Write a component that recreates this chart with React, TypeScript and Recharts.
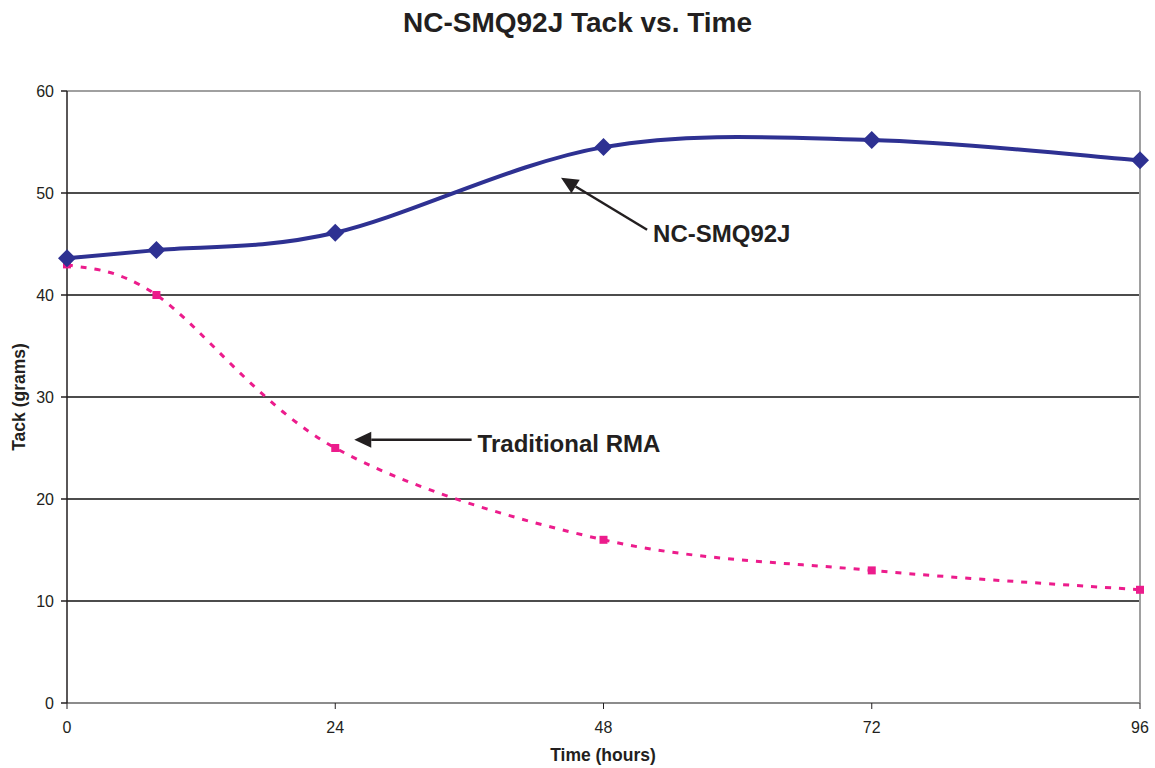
import React from "react";
import {
  LineChart,
  Line,
  XAxis,
  YAxis,
  CartesianGrid,
  ReferenceLine,
} from "recharts";

// values (hours → grams)
const hours = [0, 8, 24, 48, 72, 96];
const ncSmq92j = [43.6, 44.4, 46.1, 54.5, 55.2, 53.2];
const traditionalRma = [43.0, 40.0, 25.0, 16.0, 13.0, 11.1];

const xTicks = [0, 24, 48, 72, 96];
const yTicks = [0, 10, 20, 30, 40, 50, 60];

// annotation arrows: [tip, tail] in data coords
const ncArrow = [
  { x: 44.2, y: 51.5 },
  { x: 51.9, y: 46.4 },
];
const rmaArrow = [
  { x: 25.7, y: 25.8 },
  { x: 36.2, y: 25.8 },
];

const data = hours.map((h, i) => ({
  hours: h,
  nc: ncSmq92j[i],
  rma: traditionalRma[i],
}));

const FONT = "'Liberation Sans', Arial, Helvetica, sans-serif";
const BLUE = "#2e3192";
const PINK = "#ec1c8c";
const INK = "#231f20";

// Excel-style smoothed line (Catmull-Rom as cubic bezier)
const excelCurve = (context: any) => {
  let pts: [number, number][] = [];
  return {
    areaStart() {},
    areaEnd() {},
    lineStart() {
      pts = [];
    },
    point(x: number, y: number) {
      pts.push([+x, +y]);
    },
    lineEnd() {
      const n = pts.length;
      if (!n) return;
      context.moveTo(pts[0][0], pts[0][1]);
      for (let i = 0; i < n - 1; i++) {
        const p0 = pts[Math.max(i - 1, 0)];
        const p1 = pts[i];
        const p2 = pts[i + 1];
        const p3 = pts[Math.min(i + 2, n - 1)];
        context.bezierCurveTo(
          p1[0] + (p2[0] - p0[0]) / 6,
          p1[1] + (p2[1] - p0[1]) / 6,
          p2[0] - (p3[0] - p1[0]) / 6,
          p2[1] - (p3[1] - p1[1]) / 6,
          p2[0],
          p2[1]
        );
      }
    },
  };
};

const Diamond = (props: any) => {
  const { cx, cy, index } = props;
  const r = 9;
  return (
    <polygon
      key={`d-${index}`}
      points={`${cx},${cy - r} ${cx + r},${cy} ${cx},${cy + r} ${cx - r},${cy}`}
      fill={BLUE}
    />
  );
};

const Square = (props: any) => {
  const { cx, cy, index } = props;
  const s = 8;
  return <rect key={`s-${index}`} x={cx - s / 2} y={cy - s / 2} width={s} height={s} fill={PINK} />;
};

// arrow from tail (x2,y2) to tip (x1,y1) with the label next to the tail
const arrowShape = (label: string) => (props: any) => {
  const { x1, y1, x2, y2 } = props;
  const dx = x1 - x2;
  const dy = y1 - y2;
  const len = Math.sqrt(dx * dx + dy * dy) || 1;
  const ux = dx / len;
  const uy = dy / len;
  const headLen = 17;
  const headW = 8;
  const bx = x1 - ux * headLen;
  const by = y1 - uy * headLen;
  const px = -uy;
  const py = ux;
  return (
    <g>
      <line x1={x2} y1={y2} x2={bx} y2={by} stroke={INK} strokeWidth={2.5} />
      <polygon
        points={`${x1},${y1} ${bx + px * headW},${by + py * headW} ${bx - px * headW},${by - py * headW}`}
        fill={INK}
      />
      <text x={x2 + 6} y={y2 + 12} fontFamily={FONT} fontWeight="bold" fontSize={24} fill={INK}>
        {label}
      </text>
    </g>
  );
};

export default function App() {
  return (
    <div
      style={{
        position: "absolute",
        left: 0,
        top: 0,
        width: 1155,
        height: 768,
        background: "#fff",
        fontFamily: FONT,
      }}
    >
      <div
        style={{
          position: "absolute",
          top: 7,
          left: 0,
          width: 1155,
          textAlign: "center",
          fontWeight: "bold",
          fontSize: 28,
          color: INK,
        }}
      >
        NC-SMQ92J Tack vs. Time
      </div>

      <div style={{ position: "absolute", left: 0, top: 0 }}>
        <LineChart
          width={1155}
          height={768}
          data={data}
          margin={{ top: 91, right: 15, bottom: 25, left: 27 }}
        >
          <CartesianGrid horizontal vertical={false} stroke="#111" strokeWidth={1.3} />
          <XAxis
            dataKey="hours"
            type="number"
            domain={[0, 96]}
            ticks={xTicks}
            height={40}
            tickSize={6}
            tickMargin={13}
            stroke="#8c8c8c"
            strokeWidth={2}
            tick={{ fill: INK, fontSize: 16, fontFamily: FONT }}
            tickLine={{ stroke: INK, strokeWidth: 1 }}
          />
          <YAxis
            type="number"
            domain={[0, 60]}
            ticks={yTicks}
            width={40}
            tickSize={6}
            tickMargin={7}
            stroke={INK}
            strokeWidth={1.5}
            tick={{ fill: INK, fontSize: 16, fontFamily: FONT }}
          />
          <ReferenceLine y={60} stroke="#a0a0a0" strokeWidth={2} />
          <ReferenceLine x={96} stroke="#a0a0a0" strokeWidth={2} />
          <Line
            dataKey="rma"
            type={excelCurve as any}
            stroke={PINK}
            strokeWidth={3}
            strokeDasharray="6 8"
            dot={Square}
            activeDot={false}
            isAnimationActive={false}
          />
          <Line
            dataKey="nc"
            type={excelCurve as any}
            stroke={BLUE}
            strokeWidth={4}
            dot={Diamond}
            activeDot={false}
            isAnimationActive={false}
          />
          <ReferenceLine segment={ncArrow} shape={arrowShape("NC-SMQ92J")} />
          <ReferenceLine segment={rmaArrow} shape={arrowShape("Traditional RMA")} />
        </LineChart>
      </div>

      <div
        style={{
          position: "absolute",
          left: 503,
          width: 200,
          top: 745,
          textAlign: "center",
          fontWeight: "bold",
          fontSize: 17.5,
          color: INK,
        }}
      >
        Time (hours)
      </div>
      <div
        style={{
          position: "absolute",
          left: 19,
          top: 397,
          transform: "translate(-50%, -50%) rotate(-90deg)",
          whiteSpace: "nowrap",
          fontWeight: "bold",
          fontSize: 17.5,
          color: INK,
        }}
      >
        Tack (grams)
      </div>
    </div>
  );
}
